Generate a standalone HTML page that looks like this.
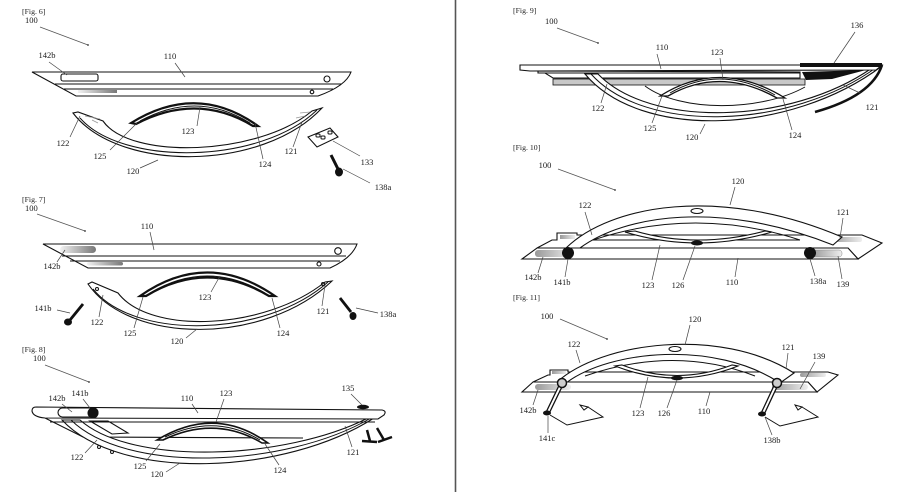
<!DOCTYPE html>
<html><head><meta charset="utf-8"><style>
html,body{margin:0;padding:0;background:#fff;}
svg{display:block;}
text{font-family:"Liberation Serif",serif;font-size:8.5px;fill:#1a1a1a;}
.f{font-size:7.8px;}
.o{fill:#fff;stroke:#111;stroke-width:1.1;}
.l{fill:none;stroke:#111;stroke-width:1;}
.ld{fill:none;stroke:#444;stroke-width:0.7;}
.ar{fill:none;stroke:#555;stroke-width:0.8;}
</style></head><body>
<svg width="920" height="492" viewBox="0 0 920 492" xmlns="http://www.w3.org/2000/svg">
<defs>
<linearGradient id="g1" x1="0" x2="1" y1="0" y2="0"><stop offset="0" stop-color="#f2f2f2"/><stop offset="1" stop-color="#777"/></linearGradient>
<linearGradient id="g2" x1="0" x2="1" y1="0" y2="0"><stop offset="0" stop-color="#999"/><stop offset="1" stop-color="#eee"/></linearGradient>
</defs>
<rect width="920" height="492" fill="#fff"/>
<line x1="455.5" y1="0" x2="455.5" y2="492" stroke="#555" stroke-width="1.6"/>

<!-- ========== FIG 6 ========== -->
<text class="f" x="22" y="14">[Fig. 6]</text>
<text x="25" y="23">100</text>
<line class="ar" x1="40" y1="27" x2="88" y2="45"/><circle cx="88" cy="45" r="0.9" fill="#333"/>
<path class="o" d="M32,72 L351,72 Q346,86 318,96 L76,96 Z"/>
<path class="l" d="M55,84 L341,84 M64,89 L333,89"/>
<rect x="61" y="74" width="37" height="7" rx="2" class="o"/>
<circle cx="327" cy="79" r="3" class="o"/>
<circle cx="312" cy="92" r="1.8" class="o"/>
<rect x="78" y="90" width="39" height="3" fill="url(#g1)"/>
<path d="M131,123 Q197,82 258,126 L253,126 Q197,92 136,124 Z" fill="#fff" stroke="#111" stroke-width="2.2"/>
<path class="l" d="M140,121 Q197,90 250,123"/>
<path class="o" d="M73,113 C118,172 262,172 322,108 L312,111 C258,156 130,160 103,121 L78,112 Z"/>
<path class="l" d="M80,118 C122,166 260,165 317,110"/>
<path d="M85,116 L100,119 M92,120 L98,123 M300,113 L310,112 M296,118 L305,116" stroke="#999" stroke-width="0.8"/>
<path class="o" d="M308,137 L330,128 L338,137 L317,147 Z"/>
<rect x="316" y="134" width="4" height="3" rx="1" class="l"/><rect x="321" y="136" width="4" height="3" rx="1" class="l"/><rect x="328" y="131" width="4" height="3" rx="1" class="l"/>
<line x1="331" y1="155" x2="338" y2="169" stroke="#111" stroke-width="3"/>
<ellipse cx="339" cy="172" rx="4" ry="4.5" fill="#111"/>
<text x="47" y="58" text-anchor="middle">142b</text><line class="ld" x1="49" y1="62" x2="67" y2="75"/>
<text x="170" y="59" text-anchor="middle">110</text><line class="ld" x1="175" y1="63" x2="185" y2="77"/>
<text x="188" y="134" text-anchor="middle">123</text><line class="ld" x1="197" y1="126" x2="200" y2="107"/>
<text x="63" y="146" text-anchor="middle">122</text><line class="ld" x1="70" y1="137" x2="80" y2="116"/>
<text x="100" y="159" text-anchor="middle">125</text><line class="ld" x1="110" y1="150" x2="137" y2="123"/>
<text x="133" y="174" text-anchor="middle">120</text><line class="ld" x1="140" y1="168" x2="158" y2="160"/>
<text x="265" y="167" text-anchor="middle">124</text><line class="ld" x1="263" y1="159" x2="255" y2="123"/>
<text x="291" y="154" text-anchor="middle">121</text><line class="ld" x1="293" y1="147" x2="302" y2="122"/>
<text x="367" y="165" text-anchor="middle">133</text><line class="ld" x1="360" y1="156" x2="333" y2="141"/>
<text x="383" y="190" text-anchor="middle">138a</text><line class="ld" x1="370" y1="183" x2="343" y2="169"/>

<!-- ========== FIG 7 ========== -->
<text class="f" x="22" y="202">[Fig. 7]</text>
<text x="25" y="211">100</text>
<line class="ar" x1="37" y1="214" x2="85" y2="231"/><circle cx="85" cy="231" r="0.9" fill="#333"/>
<path class="o" d="M43,244 L357,244 Q352,258 330,268 L88,268 Z"/>
<path class="l" d="M62,256 L346,256 M70,261 L340,261"/>
<rect x="60" y="246" width="36" height="7" rx="3.5" fill="url(#g1)"/>
<rect x="87" y="262" width="36" height="3.5" rx="1.7" fill="url(#g1)"/>
<circle cx="338" cy="251" r="3.3" class="o"/>
<circle cx="319" cy="264" r="2" class="o"/>
<path d="M140,296 Q207,249 275,296 L269,296 Q207,259 146,296 Z" fill="#fff" stroke="#111" stroke-width="2.2"/>
<path class="l" d="M150,293 Q207,259 265,293"/>
<path class="o" d="M88,284 C130,345 265,345 332,281 L325,282 C265,330 150,335 118,293 L92,282 Z"/>
<path class="l" d="M93,289 C134,340 265,338 328,282"/>
<circle cx="97" cy="289" r="1.5" class="l"/><circle cx="323" cy="284" r="1.5" class="l"/>
<line x1="83" y1="304" x2="70" y2="320" stroke="#111" stroke-width="2.8"/>
<ellipse cx="68" cy="322" rx="4" ry="3.5" fill="#111"/>
<line x1="340" y1="298" x2="351" y2="312" stroke="#111" stroke-width="2.8"/>
<ellipse cx="353" cy="316" rx="3.5" ry="4" fill="#111"/>
<text x="147" y="229" text-anchor="middle">110</text><line class="ld" x1="150" y1="232" x2="154" y2="250"/>
<text x="52" y="269" text-anchor="middle">142b</text><line class="ld" x1="57" y1="262" x2="65" y2="250"/>
<text x="43" y="311" text-anchor="middle">141b</text><line class="ld" x1="57" y1="310" x2="70" y2="313"/>
<text x="97" y="325" text-anchor="middle">122</text><line class="ld" x1="99" y1="317" x2="103" y2="295"/>
<text x="130" y="336" text-anchor="middle">125</text><line class="ld" x1="134" y1="328" x2="143" y2="297"/>
<text x="177" y="344" text-anchor="middle">120</text><line class="ld" x1="186" y1="338" x2="197" y2="329"/>
<text x="205" y="300" text-anchor="middle">123</text><line class="ld" x1="211" y1="292" x2="220" y2="276"/>
<text x="283" y="336" text-anchor="middle">124</text><line class="ld" x1="280" y1="328" x2="272" y2="298"/>
<text x="323" y="314" text-anchor="middle">121</text><line class="ld" x1="322" y1="306" x2="325" y2="285"/>
<text x="388" y="317" text-anchor="middle">138a</text><line class="ld" x1="378" y1="313" x2="356" y2="308"/>

<!-- ========== FIG 8 ========== -->
<text class="f" x="22" y="352">[Fig. 8]</text>
<text x="33" y="361">100</text>
<line class="ar" x1="45" y1="365" x2="89" y2="382"/><circle cx="89" cy="382" r="0.9" fill="#333"/>
<path class="o" d="M45,418 L83,437 L303,438"/>
<path class="o" d="M62,420 C120,482 285,475 374,418 L368,418 C285,460 132,466 80,420 Z"/>
<path class="l" d="M71,420 C126,474 285,468 371,418"/>
<path class="o" d="M90,421 L108,421 L128,433 L112,434 Z"/>
<path d="M157,440 Q215,405 268,443 L262,443 Q215,415 163,440 Z" fill="#fff" stroke="#111" stroke-width="1.6"/>
<path class="l" d="M165,437 Q215,413 260,440"/>
<path class="o" d="M36,407 L382,410 Q387,411 384,415 L378,419 L45,418 Q33,417 32,411 Q32,407 36,407 Z"/>
<path class="l" d="M50,422 L375,422"/>
<rect x="58" y="408" width="40" height="9" rx="4.5" class="o"/>
<circle cx="93" cy="413" r="5.5" fill="#111"/>
<ellipse cx="363" cy="407" rx="6" ry="2.2" fill="#111"/>
<circle cx="99" cy="447" r="1.5" class="l"/><circle cx="112" cy="452" r="1.5" class="l"/>
<path d="M367,430 L370,441 M362,441 L377,442" stroke="#111" stroke-width="2.5" fill="none"/>
<path d="M377,428 L384,440 M378,442 L392,437" stroke="#111" stroke-width="2.5" fill="none"/>
<text x="57" y="401" text-anchor="middle">142b</text><line class="ld" x1="62" y1="404" x2="72" y2="412"/>
<text x="80" y="396" text-anchor="middle">141b</text><line class="ld" x1="83" y1="399" x2="90" y2="408"/>
<text x="187" y="401" text-anchor="middle">110</text><line class="ld" x1="192" y1="404" x2="198" y2="413"/>
<text x="226" y="396" text-anchor="middle">123</text><line class="ld" x1="224" y1="399" x2="216" y2="422"/>
<text x="348" y="391" text-anchor="middle">135</text><line class="ld" x1="351" y1="394" x2="362" y2="405"/>
<text x="77" y="460" text-anchor="middle">122</text><line class="ld" x1="85" y1="453" x2="97" y2="440"/>
<text x="140" y="469" text-anchor="middle">125</text><line class="ld" x1="146" y1="461" x2="160" y2="444"/>
<text x="157" y="477" text-anchor="middle">120</text><line class="ld" x1="166" y1="472" x2="180" y2="463"/>
<text x="280" y="473" text-anchor="middle">124</text><line class="ld" x1="279" y1="465" x2="265" y2="444"/>
<text x="353" y="455" text-anchor="middle">121</text><line class="ld" x1="352" y1="447" x2="345" y2="426"/>

<!-- ========== FIG 9 ========== -->
<text class="f" x="513" y="13">[Fig. 9]</text>
<text x="545" y="24">100</text>
<line class="ar" x1="557" y1="28" x2="598" y2="43"/><circle cx="598" cy="43" r="0.9" fill="#333"/>
<path class="o" d="M538,71 L538,73 L545,73 L553,78 L800,78 L800,72 Z"/>
<rect x="553" y="79" width="252" height="6" fill="#c8c8c8" stroke="#111" stroke-width="0.8"/>
<path class="l" d="M545,73 L800,73"/>
<path class="l" d="M645,86 C680,112 760,112 805,87"/>
<path d="M660,96 Q720,58 785,98 L777,98 Q720,66 668,96 Z" fill="#fff" stroke="#111" stroke-width="1.3"/>
<path class="l" d="M670,93 Q720,64 775,95"/>
<path class="o" d="M585,74 C640,140 790,135 882,66 L872,68 C790,125 650,128 598,74 Z"/>
<path class="l" d="M591,74 C645,134 790,130 877,67"/>
<path class="o" d="M520,65 L882,65 L876,70 L530,71 L520,70 Z"/>
<path d="M800,63 L882,63 L882,67 L800,67 Z" fill="#111"/>
<path d="M802,72 L866,70 L832,79 L806,80 Z" fill="#111"/>
<path d="M882,65 Q872,96 815,112" fill="none" stroke="#111" stroke-width="2.6"/>
<text x="662" y="50" text-anchor="middle">110</text><line class="ld" x1="657" y1="54" x2="661" y2="69"/>
<text x="717" y="55" text-anchor="middle">123</text><line class="ld" x1="720" y1="58" x2="723" y2="80"/>
<text x="857" y="28" text-anchor="middle">136</text><line class="ld" x1="855" y1="32" x2="834" y2="63"/>
<text x="598" y="111" text-anchor="middle">122</text><line class="ld" x1="601" y1="103" x2="607" y2="84"/>
<text x="650" y="131" text-anchor="middle">125</text><line class="ld" x1="652" y1="123" x2="662" y2="96"/>
<text x="692" y="140" text-anchor="middle">120</text><line class="ld" x1="700" y1="134" x2="705" y2="124"/>
<text x="795" y="138" text-anchor="middle">124</text><line class="ld" x1="792" y1="130" x2="783" y2="99"/>
<text x="872" y="110" text-anchor="middle">121</text><line class="ld" x1="860" y1="93" x2="843" y2="85"/>

<!-- ========== FIG 10 ========== -->
<text class="f" x="513" y="150">[Fig. 10]</text>
<text x="545" y="168" text-anchor="middle">100</text>
<line class="ar" x1="558" y1="169" x2="615" y2="190"/><circle cx="615" cy="190" r="0.9" fill="#333"/>
<path class="o" d="M537,248 L552,240 L557,240 L557,233 L577,233 L577,235 L862,235 L882,243 L858,259 L848,248 Z"/>
<rect x="560" y="235" width="15" height="4" fill="url(#g2)"/>
<rect x="830" y="237" width="32" height="5" rx="2" fill="url(#g2)"/>
<path class="l" d="M590,240 L800,240"/>
<path class="l" d="M593,240 Q695,206 800,240"/>
<path class="o" d="M625,232 Q697,254 772,232 L765,231 Q697,249 635,231 Z"/>
<path class="o" d="M566,248 C610,205 720,185 842,237 L833,245 C720,200 625,215 580,248 Z"/>
<ellipse cx="697" cy="211" rx="6" ry="2.5" class="o"/>
<ellipse cx="697" cy="243" rx="6" ry="2.5" fill="#111"/>
<path class="o" d="M537,248 L848,248 L858,259 L522,259 Z"/>
<rect x="535" y="250" width="38" height="7" rx="3" fill="url(#g2)"/>
<rect x="812" y="250" width="30" height="7" rx="3" fill="url(#g2)" stroke="#888" stroke-width="0.5"/>
<circle cx="568" cy="253" r="6" fill="#111"/>
<circle cx="810" cy="253" r="6" fill="#111"/>
<text x="738" y="184" text-anchor="middle">120</text><line class="ld" x1="735" y1="187" x2="730" y2="205"/>
<text x="585" y="208" text-anchor="middle">122</text><line class="ld" x1="585" y1="212" x2="592" y2="235"/>
<text x="843" y="215" text-anchor="middle">121</text><line class="ld" x1="843" y1="218" x2="840" y2="238"/>
<text x="533" y="280" text-anchor="middle">142b</text><line class="ld" x1="538" y1="273" x2="543" y2="257"/>
<text x="562" y="285" text-anchor="middle">141b</text><line class="ld" x1="565" y1="277" x2="568" y2="259"/>
<text x="648" y="288" text-anchor="middle">123</text><line class="ld" x1="652" y1="280" x2="660" y2="245"/>
<text x="678" y="288" text-anchor="middle">126</text><line class="ld" x1="683" y1="280" x2="695" y2="246"/>
<text x="732" y="285" text-anchor="middle">110</text><line class="ld" x1="735" y1="277" x2="738" y2="258"/>
<text x="818" y="284" text-anchor="middle">138a</text><line class="ld" x1="815" y1="276" x2="810" y2="259"/>
<text x="843" y="287" text-anchor="middle">139</text><line class="ld" x1="842" y1="279" x2="838" y2="256"/>

<!-- ========== FIG 11 ========== -->
<text class="f" x="513" y="300">[Fig. 11]</text>
<text x="547" y="319" text-anchor="middle">100</text>
<line class="ar" x1="560" y1="319" x2="607" y2="339"/><circle cx="607" cy="339" r="0.9" fill="#333"/>
<path class="o" d="M533,382 L548,375 L550,375 L550,370 L568,370 L568,372 L828,372 L838,375 L817,392 L808,382 Z"/>
<rect x="552" y="371" width="14" height="3" fill="url(#g2)"/>
<rect x="800" y="373" width="26" height="4" rx="2" fill="url(#g2)"/>
<path class="l" d="M585,376 Q675,345 755,376"/>
<path class="o" d="M615,366 Q677,390 738,366 L732,365 Q677,386 622,365 Z"/>
<path class="o" d="M556,383 C600,342 720,326 794,373 L780,383 C715,340 610,350 566,383 Z"/>
<ellipse cx="675" cy="349" rx="6" ry="2.5" class="o"/>
<ellipse cx="677" cy="378" rx="6" ry="2.3" fill="#111"/>
<path class="o" d="M533,382 L808,382 L817,392 L522,392 Z"/>
<rect x="535" y="384" width="36" height="6" rx="3" fill="url(#g2)"/>
<rect x="772" y="384" width="36" height="6" rx="3" fill="url(#g2)"/>
<line x1="562" y1="383" x2="548" y2="412" stroke="#111" stroke-width="4.5" stroke-linecap="round"/>
<line x1="562" y1="383" x2="548" y2="412" stroke="#fff" stroke-width="2" stroke-linecap="round"/>
<circle cx="562" cy="383" r="4.5" fill="#ccc" stroke="#111" stroke-width="1.5"/>
<ellipse cx="547" cy="413" rx="4" ry="2.5" fill="#111"/>
<line x1="777" y1="383" x2="763" y2="413" stroke="#111" stroke-width="4.5" stroke-linecap="round"/>
<line x1="777" y1="383" x2="763" y2="413" stroke="#fff" stroke-width="2" stroke-linecap="round"/>
<circle cx="777" cy="383" r="4.5" fill="#ccc" stroke="#111" stroke-width="1.5"/>
<ellipse cx="762" cy="414" rx="4" ry="2.5" fill="#111"/>
<path class="l" d="M550,415 L567,425 L603,417 L588,407 M580,405 L588,407 L584,410 Z"/>
<path class="l" d="M765,417 L780,426 L818,417 L802,407 M795,405 L802,407 L798,410 Z"/>
<text x="695" y="322" text-anchor="middle">120</text><line class="ld" x1="690" y1="325" x2="685" y2="345"/>
<text x="574" y="347" text-anchor="middle">122</text><line class="ld" x1="576" y1="350" x2="580" y2="363"/>
<text x="788" y="350" text-anchor="middle">121</text><line class="ld" x1="788" y1="353" x2="786" y2="369"/>
<text x="819" y="359" text-anchor="middle">139</text><line class="ld" x1="815" y1="362" x2="800" y2="389"/>
<text x="528" y="413" text-anchor="middle">142b</text><line class="ld" x1="533" y1="405" x2="538" y2="390"/>
<text x="638" y="416" text-anchor="middle">123</text><line class="ld" x1="640" y1="408" x2="648" y2="377"/>
<text x="664" y="416" text-anchor="middle">126</text><line class="ld" x1="667" y1="408" x2="677" y2="380"/>
<text x="704" y="414" text-anchor="middle">110</text><line class="ld" x1="706" y1="406" x2="710" y2="392"/>
<text x="547" y="441" text-anchor="middle">141c</text><line class="ld" x1="548" y1="433" x2="548" y2="416"/>
<text x="772" y="443" text-anchor="middle">138b</text><line class="ld" x1="772" y1="435" x2="765" y2="417"/>
</svg>
</body></html>
